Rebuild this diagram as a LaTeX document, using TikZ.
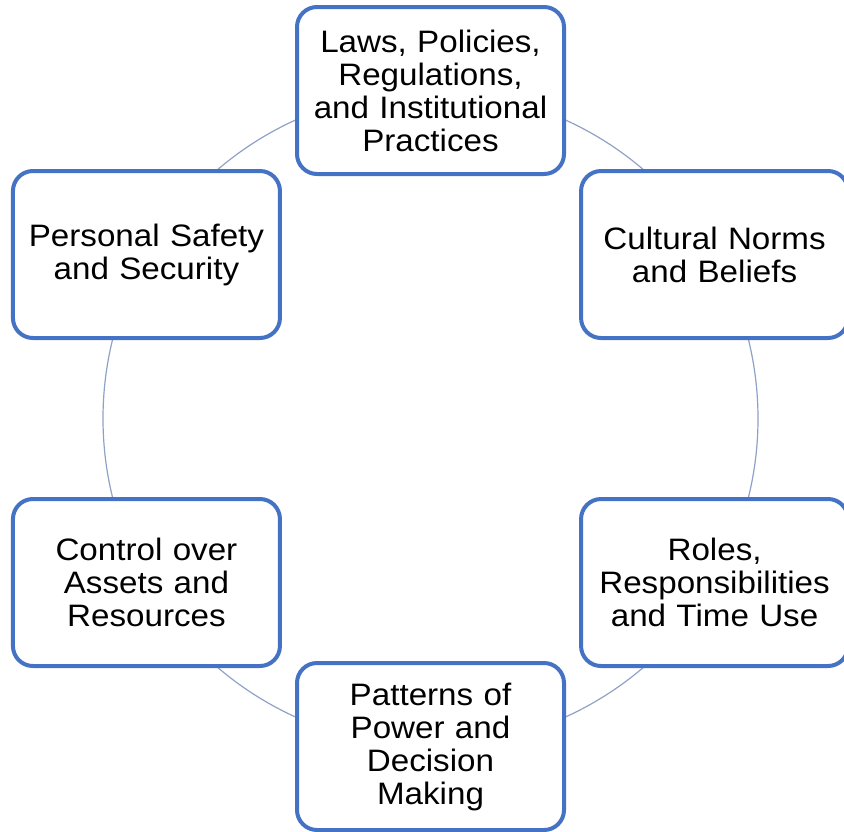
\documentclass[tikz,border=0pt]{standalone}
\usepackage{fontspec}
\setmainfont{Liberation Sans}[FakeStretch=1.07]
\usetikzlibrary{positioning}
\definecolor{boxblue}{HTML}{4472C4}
\definecolor{ringblue}{HTML}{8FA1C6}

\begin{document}
\begin{tikzpicture}[x=1pt,y=-1pt]
	\useasboundingbox (0,0) rectangle (844,831);
	\coordinate (C) at (430.5,418.5);
	\draw[ringblue,line width=1.2pt] (C) circle (327.5);
	\foreach \t/\a [count=\n] in
		{{Laws, Policies,\\Regulations,\\and Institutional\\Practices}/90,
		 {Cultural Norms\\and Beliefs}/30,
		 {Roles,\\Responsibilities\\and Time Use}/-30,
		 {Patterns of\\Power and\\Decision\\Making}/-90,
		 {Control over\\Assets and\\Resources}/210,
		 {Personal Safety\\and Security}/150}
		\node[draw=boxblue,fill=white,line width=4pt,rounded corners=20pt,
			minimum width=267pt,minimum height=167pt,text width=260pt,align=center,
			font=\fontsize{31}{33}\selectfont] (N\n) at ([shift={(\a:328pt)}]C) {\t};
\end{tikzpicture}
\end{document}
